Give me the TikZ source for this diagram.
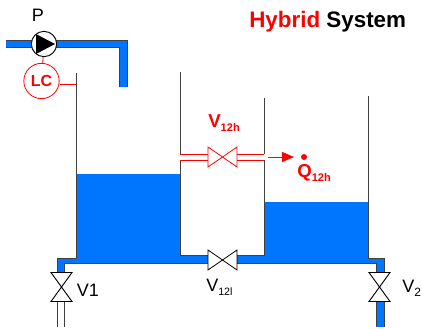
\documentclass[tikz,border=0pt]{standalone}
\usepackage{fontspec}
\setmainfont{Liberation Sans}
\usetikzlibrary{arrows.meta,positioning}
\definecolor{pipeblue}{RGB}{0,118,255}
\tikzset{
  wall/.style={line width=.7pt,black!75},
  redline/.style={line width=.6pt,red},
  lbl/.style={inner sep=0pt,font=\fontsize{13.5}{15}\selectfont},
  redlbl/.style={inner sep=0pt,red,font=\fontsize{14}{16}\selectfont\bfseries}
}
% sideways valve and upright valve, centre given in pixels
\newcommand{\valveside}[3]{\fill[white] (#1-14.5,#2-10) rectangle (#1+14.5,#2+10);
  \draw[#3,line width=.6pt] (#1-14.5,#2-10)--(#1+14.5,#2+10)--(#1+14.5,#2-10)--(#1-14.5,#2+10)--cycle;}
\newcommand{\valveup}[2]{\fill[white] (#1-10.5,#2-14.5) rectangle (#1+10.5,#2+14.5);
  \draw[black,line width=.7pt] (#1-10.5,#2-14.5)--(#1+10.5,#2-14.5)--(#1-10.5,#2+14.5)--(#1+10.5,#2+14.5)--cycle;}
\newcommand{\subtext}[2]{\raisebox{-3.2pt}{\fontsize{#1}{10}\selectfont #2}}
\begin{document}
\begin{tikzpicture}[x=.75pt,y=-.75pt]
\useasboundingbox (0,0) rectangle (422,329);

% water
\fill[pipeblue] (76,174)--(180,174)--(180,255)--(264,255)--(264,202)--(368,202)--(368,258)--(384,258)
  --(384,272)--(376,272)--(376,263)--(64,263)--(64,272)--(57,272)--(57,258)--(76,258)--cycle;
% feed pipe
\fill[pipeblue] (6,40)--(127,40)--(127,87)--(119,87)--(119,47)--(6,47)--cycle;
\fill[pipeblue] (376,301) rectangle (384,327);
\draw[wall] (6,40)--(127,40)--(127,87);
\draw[wall] (6,47)--(119,47)--(119,87);

% tanks
\draw[wall] (76,73)--(76,258)--(57,258)--(57,272);
\draw[wall] (64,272)--(64,263)--(376,263)--(376,272);
\draw[wall] (384,272)--(384,258)--(368,258)--(368,96);
\draw[wall] (180,72)--(180,154);
\draw[wall] (264,98)--(264,154);
\draw[wall] (180,160)--(180,255)--(208,255);
\draw[wall] (237,255)--(264,255)--(264,160);
\draw[wall] (57.5,301)--(57.5,327);
\draw[wall] (64,301)--(64,327);
\draw[wall] (376,301)--(376,327);
\draw[wall] (384,301)--(384,327);

% red connection
\draw[redline] (180,154)--(209,154);
\draw[redline] (180,160)--(209,160);
\draw[redline] (237,154)--(264,154);
\draw[redline] (237,160)--(264,160);

\valveside{222.5}{157}{red}
\valveside{222.5}{260}{black}
\valveup{61.5}{287}
\valveup{379.5}{287}

% pump
\node[circle,draw=black,fill=white,line width=.7pt,minimum size=19pt,inner sep=0pt] (pump) at (44,44){};
\fill[black] (36,34)--(55,44)--(36,54)--cycle;
\node[lbl] (plabel) at (38,15){P};

% level controller
\node[circle,draw=red,fill=white,line width=.6pt,minimum size=26.5pt,inner sep=0pt,
  font=\fontsize{12}{14}\selectfont\bfseries,text=red] (lc) at (41.5,81){LC};
\coordinate (tap) at (76,84);
\draw[redline] (lc)--(pump);
\draw[redline] (lc.east|-tap)--(tap);

% labels
\node[lbl] (vone) at (88,290){V1};
\node[lbl,anchor=west] (vtwo) at (402,288){V\subtext{9}{2}};
\node[lbl,anchor=west] (vlow) at (206,287){V\subtext{8}{12l}};
\node[redlbl,anchor=west] (vhigh) at (208,123){V\subtext{8.3}{12h}};
\node[redlbl,anchor=west] (qdot) at (297,173){Q\subtext{8.3}{12h}};
\fill[red] (304,157) circle (3);

\coordinate (heatstart) at (268,157);
\coordinate (heatend) at (294,157);
\draw[redline,-{Triangle[length=9pt,width=7.5pt]}] (heatstart)--(heatend);

\node[inner sep=0pt,anchor=west,font=\fontsize{16.8}{19}\selectfont\bfseries] (title) at (249,22){\textcolor{red}{Hybrid} System};
\end{tikzpicture}
\end{document}
